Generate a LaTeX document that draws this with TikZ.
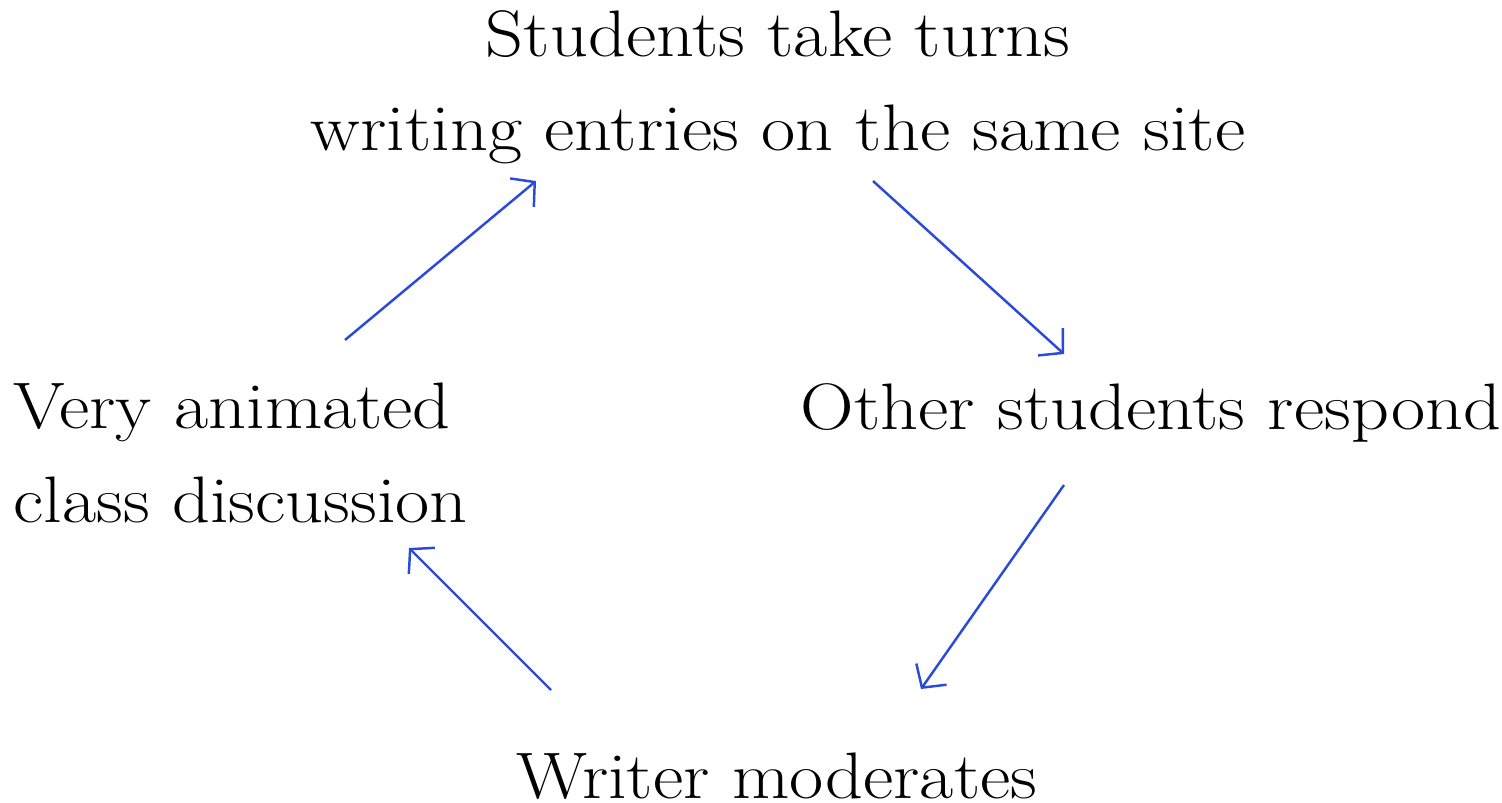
\documentclass[tikz,border=0pt]{standalone}
\usepackage{graphicx}
\usetikzlibrary{arrows.meta}
\definecolor{arrowblue}{HTML}{2A4BD7}
\newcommand\widetxt[1]{\scalebox{1.13}[1]{#1}}
\begin{document}
\begin{tikzpicture}[x=0.01cm,y=-0.01cm,
  lbl/.style={inner sep=0pt, font=\fontsize{18.7}{26.5}\selectfont},
  flow/.style={draw=arrowblue, line width=0.7pt, -{Straight Barb[length=4.7pt,width=10.5pt]}}]
\useasboundingbox (0,0) rectangle (1502,803);
\node[lbl, align=center, anchor=base] (top) at (778,150) {\widetxt{Students take turns}\\\widetxt{writing entries on the same site}};
\node[lbl, align=left, anchor=base west] (left) at (13,522) {\widetxt{Very animated}\\\widetxt{class discussion}};
\node[lbl, anchor=base west] (right) at (800,429) {\widetxt{Other students respond}};
\node[lbl, anchor=base] (bottom) at (777,798) {\widetxt{Writer moderates}};
\coordinate (a1s) at (345,340); \coordinate (a1e) at (536,181);
\coordinate (a2s) at (873,181); \coordinate (a2e) at (1064,354);
\coordinate (a3s) at (1064,485); \coordinate (a3e) at (921,689);
\coordinate (a4s) at (551,690); \coordinate (a4e) at (409,548);
\draw[flow] (a1s) -- (a1e);
\draw[flow] (a2s) -- (a2e);
\draw[flow] (a3s) -- (a3e);
\draw[flow] (a4s) -- (a4e);
\end{tikzpicture}
\end{document}
